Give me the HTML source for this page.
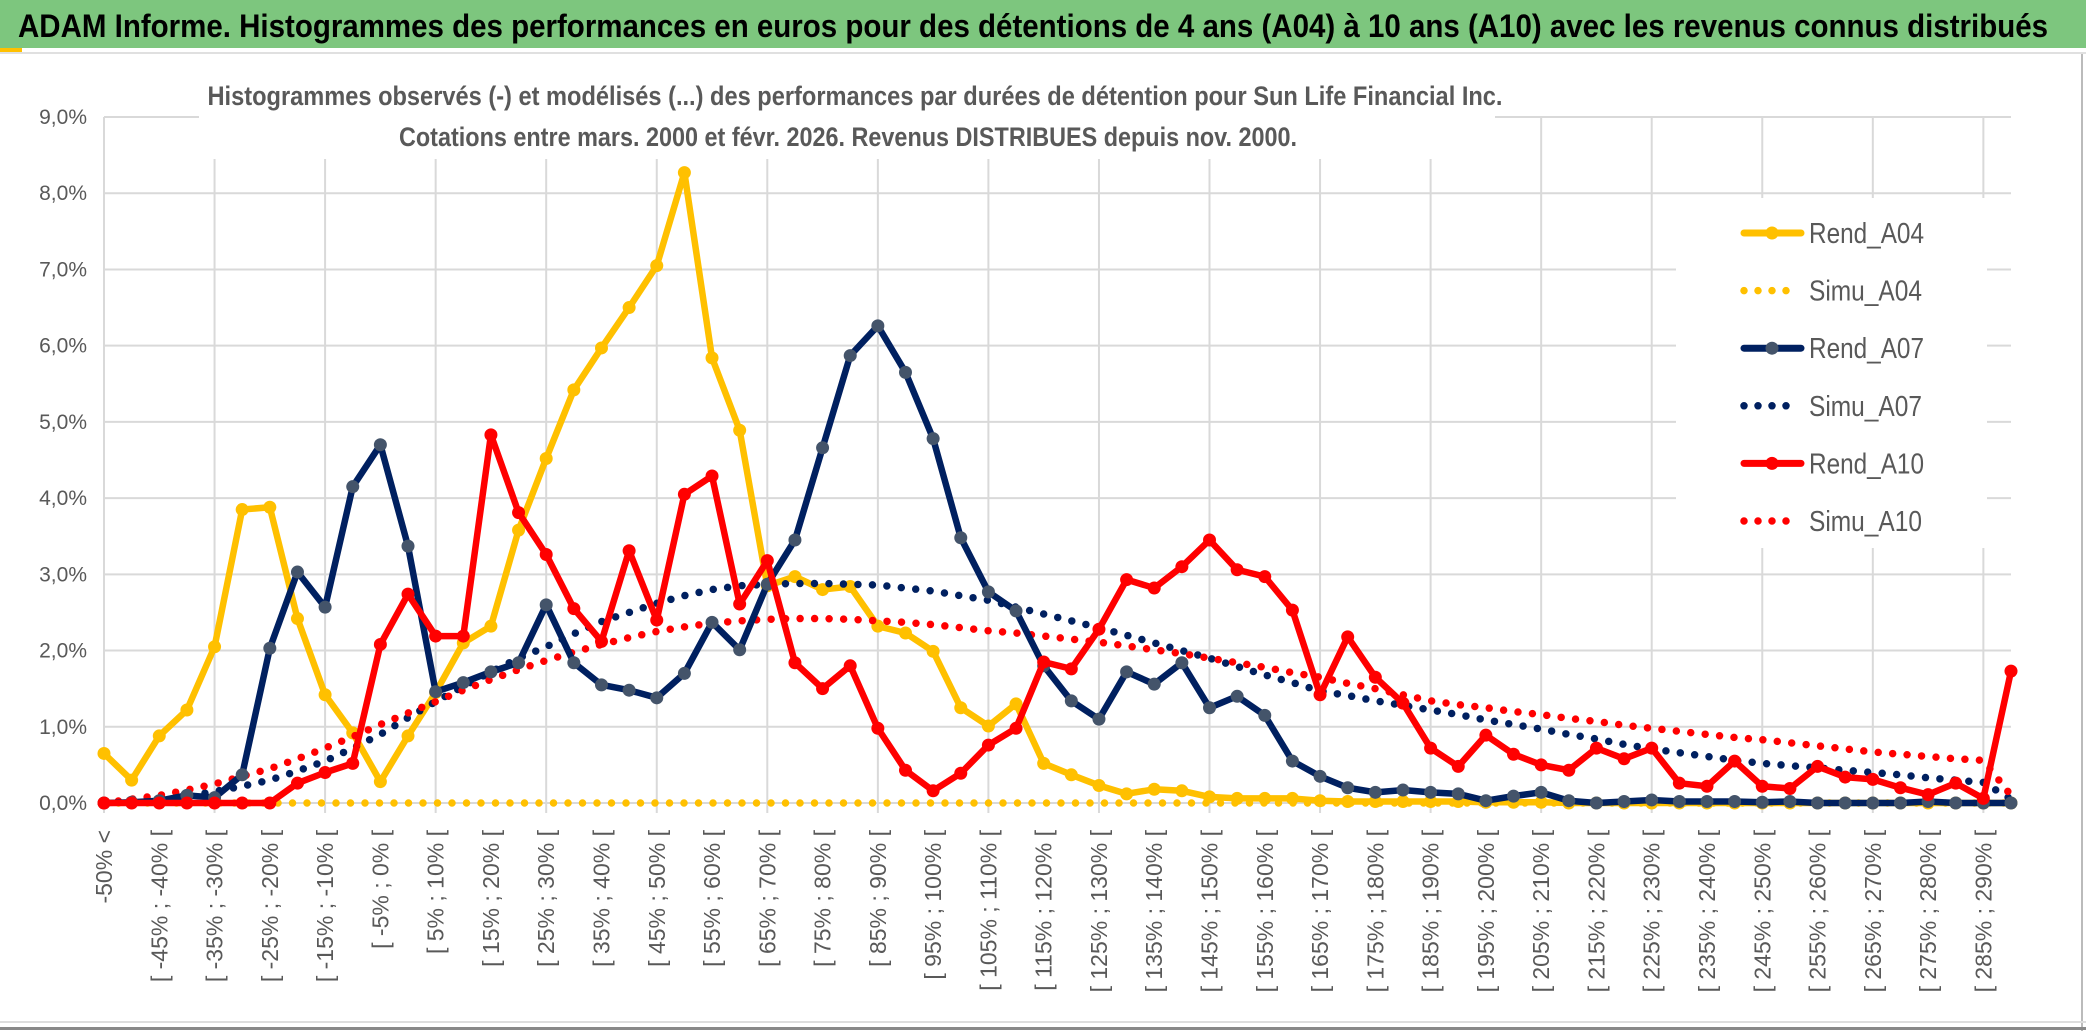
<!DOCTYPE html>
<html><head><meta charset="utf-8">
<style>
html,body{margin:0;padding:0;background:#fff;}
svg{display:block;font-family:"Liberation Sans",sans-serif;}
</style></head>
<body>
<svg id="chart" width="2086" height="1031" viewBox="0 0 2086 1031" xmlns="http://www.w3.org/2000/svg">
<rect x="0" y="0" width="2086" height="1031" fill="#fff"/>
<rect x="0" y="0" width="2086" height="48" fill="#7dc67e"/>
<rect x="0" y="48" width="22" height="5" fill="#ffc000"/>
<rect x="0" y="52" width="2086" height="2" fill="#e0e0e0"/>
<text x="18" y="37" font-size="32" font-weight="bold" fill="#000" textLength="2030" lengthAdjust="spacingAndGlyphs">ADAM Informe. Histogrammes des performances en euros pour des détentions de 4 ans (A04) à 10 ans (A10) avec les revenus connus distribués</text>
<rect x="2081" y="54" width="2" height="977" fill="#bbb"/>
<rect x="0" y="1021" width="2086" height="2" fill="#ddd"/>
<rect x="0" y="1027" width="2086" height="3" fill="#888"/>
<g id="grid"></g>
<rect x="199" y="70" width="1296" height="89" fill="#fff"/>
<rect x="1676" y="198" width="311" height="350" fill="#fff"/>
<text x="855" y="105" font-size="27" font-weight="bold" fill="#595959" text-anchor="middle" textLength="1295" lengthAdjust="spacingAndGlyphs">Histogrammes observés (-) et modélisés (...) des performances par durées de détention pour Sun Life Financial Inc.</text>
<text x="848" y="146" font-size="27" font-weight="bold" fill="#595959" text-anchor="middle" textLength="898" lengthAdjust="spacingAndGlyphs">Cotations entre mars. 2000 et févr. 2026. Revenus DISTRIBUES depuis nov. 2000.</text>
<g id="yaxis"></g>
<g id="xaxis"></g>
<g id="series"></g>
<g id="legend"></g>
</svg>
<script>
const rendA04 = [0.65,0.3,0.88,1.22,2.05,3.85,3.88,2.42,1.42,0.92,0.28,0.88,1.45,2.1,2.32,3.58,4.52,5.42,5.97,6.5,7.05,8.27,5.84,4.89,2.85,2.97,2.8,2.84,2.32,2.23,1.99,1.25,1.01,1.3,0.52,0.37,0.23,0.12,0.18,0.16,0.08,0.06,0.06,0.06,0.03,0.02,0.02,0.02,0.02,0.02,0.01,0.01,0.01,0.0,0.0,0.0,0.0,0.0,0.0,0.0,0.0,0.0,0.0,0.0,0.0,0.0,0.0,0.0,0.0,0.0];
const simuA04 = [0,0,0,0,0,0,0,0,0,0,0,0,0,0,0,0,0,0,0,0,0,0,0,0,0,0,0,0,0,0,0,0,0,0,0,0,0,0,0,0,0,0,0,0,0,0,0,0,0,0,0,0,0,0,0,0,0,0,0,0,0,0,0,0,0,0,0,0,0,0];
const rendA07 = [0,0.01,0.03,0.1,0.07,0.37,2.03,3.03,2.57,4.15,4.7,3.37,1.46,1.58,1.72,1.84,2.6,1.84,1.55,1.48,1.38,1.7,2.37,2.01,2.87,3.45,4.66,5.87,6.26,5.65,4.78,3.48,2.77,2.52,1.8,1.34,1.1,1.72,1.56,1.84,1.25,1.4,1.15,0.55,0.35,0.2,0.14,0.17,0.14,0.12,0.03,0.09,0.14,0.03,0.0,0.02,0.04,0.02,0.02,0.02,0.01,0.02,0.0,0.0,0.0,0.0,0.02,0.0,0.0,0.0];
const simuA07 = [0,0.02,0.05,0.09,0.15,0.22,0.3,0.42,0.55,0.72,0.9,1.12,1.33,1.53,1.72,1.9,2.05,2.22,2.38,2.5,2.62,2.72,2.8,2.85,2.87,2.88,2.88,2.87,2.86,2.82,2.78,2.72,2.66,2.57,2.48,2.39,2.3,2.2,2.1,2.0,1.9,1.79,1.68,1.58,1.47,1.41,1.34,1.28,1.22,1.16,1.09,1.03,0.97,0.9,0.84,0.77,0.71,0.66,0.61,0.56,0.52,0.49,0.46,0.43,0.4,0.37,0.33,0.3,0.27,0.05];
const rendA10 = [0,0,0,0,0,0,0,0.26,0.4,0.52,2.08,2.74,2.19,2.19,4.83,3.81,3.26,2.55,2.12,3.31,2.4,4.05,4.29,2.61,3.18,1.84,1.5,1.8,0.98,0.43,0.16,0.39,0.76,0.98,1.85,1.76,2.28,2.93,2.82,3.1,3.45,3.06,2.97,2.53,1.42,2.18,1.65,1.31,0.72,0.48,0.89,0.64,0.5,0.43,0.72,0.58,0.72,0.26,0.22,0.55,0.22,0.19,0.48,0.34,0.31,0.2,0.11,0.26,0.06,1.73];
const simuA10 = [0,0.05,0.1,0.17,0.25,0.35,0.45,0.58,0.72,0.87,1.03,1.18,1.33,1.48,1.62,1.75,1.87,1.98,2.08,2.17,2.25,2.31,2.36,2.39,2.41,2.42,2.42,2.41,2.39,2.37,2.34,2.3,2.26,2.23,2.19,2.15,2.11,2.06,2.01,1.96,1.9,1.84,1.78,1.71,1.65,1.57,1.5,1.42,1.34,1.29,1.25,1.2,1.16,1.11,1.07,1.02,0.98,0.94,0.9,0.86,0.83,0.79,0.75,0.71,0.67,0.64,0.61,0.58,0.56,0.1];
const yTicks = [0,1,2,3,4,5,6,7,8,9];
const seriesNames = ["Rend_A04","Simu_A04","Rend_A07","Simu_A07","Rend_A10","Simu_A10"];

const NS = "http://www.w3.org/2000/svg";
const X0 = 104, X1 = 2011, Y0 = 803, Y9 = 117;
const N = rendA04.length;
function xPos(i){ return X0 + i*(X1-X0)/(N-1); }
function yPos(v){ return Y0 - v*(Y0-Y9)/9; }
function mk(tag, attrs, parent){
  const e = document.createElementNS(NS, tag);
  for (const k in attrs) e.setAttribute(k, attrs[k]);
  parent.appendChild(e);
  return e;
}
function catLabel(i){
  if (i===0) return "-50% <";
  const a = -50 + (i-1)*5, b = a+5;
  return "[ " + a + "% ; " + b + "% [";
}
const grid = document.getElementById('grid');
yTicks.forEach(t => {
  const l = mk('line', {x1:X0, x2:X1, y1:yPos(t), y2:yPos(t), stroke:'#d9d9d9', 'stroke-width':2}, grid);
  
  
});
for (let i=0;i<N;i+=4){
  const l = mk('line', {x1:xPos(i), x2:xPos(i), y1:Y9, y2:Y0+10, stroke:'#d9d9d9', 'stroke-width':2}, grid);
  
  
}
const yax = document.getElementById('yaxis');
yTicks.forEach(t => {
  const tx = mk('text', {x:87, y:yPos(t)+7, 'font-size':21, fill:'#595959', 'text-anchor':'end'}, yax);
  tx.textContent = t.toFixed(1).replace('.',',') + '%';
  
  
});
const xax = document.getElementById('xaxis');
for (let i=0;i<N;i+=2){
  const x = xPos(i)+8, y = 830;
  const tx = mk('text', {x:x, y:y, 'font-size':23, fill:'#595959', 'text-anchor':'end', transform:'rotate(-90 '+x+' '+y+')'}, xax);
  tx.textContent = catLabel(i);
  
  
}
const ser = document.getElementById('series');
function dotted(arr, color, name){
  const pts = arr.map((v,i)=>xPos(i)+','+yPos(v)).join(' ');
  const p = mk('polyline', {points:pts, fill:'none', stroke:color, 'stroke-width':7.5, 'stroke-linecap':'round', 'stroke-dasharray':'0 14.5'}, ser);
  
  
}
function solid(arr, color, mcolor, name){
  const g = mk('g', {}, ser);
  
  
  const pts = arr.map((v,i)=>xPos(i)+','+yPos(v)).join(' ');
  mk('polyline', {points:pts, fill:'none', stroke:color, 'stroke-width':6.5, 'stroke-linejoin':'round'}, g);
  arr.forEach((v,i)=>{
    const c = mk('circle', {cx:xPos(i), cy:yPos(v), r:6.5, fill:mcolor}, g);
    
    
  });
}
dotted(simuA04, '#ffc000', 'simu-a04-line');
solid(rendA04, '#ffc000', '#ffc000', 'rend-a04-line');
dotted(simuA07, '#002060', 'simu-a07-line');
dotted(simuA10, '#ff0000', 'simu-a10-line');
solid(rendA07, '#002060', '#44546a', 'rend-a07-line');
solid(rendA10, '#ff0000', '#ff0000', 'rend-a10-line');

const leg = document.getElementById('legend');
const legColors = ['#ffc000','#ffc000','#002060','#002060','#ff0000','#ff0000'];
const legMarker = ['#ffc000','#ffc000','#44546a','#44546a','#ff0000','#ff0000'];
seriesNames.forEach((n,k)=>{
  const y = 233 + k*57.6;
  const g = mk('g', {}, leg);
  
  
  if (k%2===0){
    mk('line', {x1:1744, x2:1801, y1:y, y2:y, stroke:legColors[k], 'stroke-width':7, 'stroke-linecap':'round'}, g);
    mk('circle', {cx:1772, cy:y, r:6.5, fill:legMarker[k]}, g);
  } else {
    mk('line', {x1:1744, x2:1800, y1:y, y2:y, stroke:legColors[k], 'stroke-width':7.5, 'stroke-linecap':'round', 'stroke-dasharray':'0 14'}, g);
  }
  const t = mk('text', {x:1809, y:y+10, 'font-size':29, fill:'#595959', textLength:k%2===0?115:113, lengthAdjust:'spacingAndGlyphs'}, g);
  t.textContent = n;
});
</script>
</body></html>
